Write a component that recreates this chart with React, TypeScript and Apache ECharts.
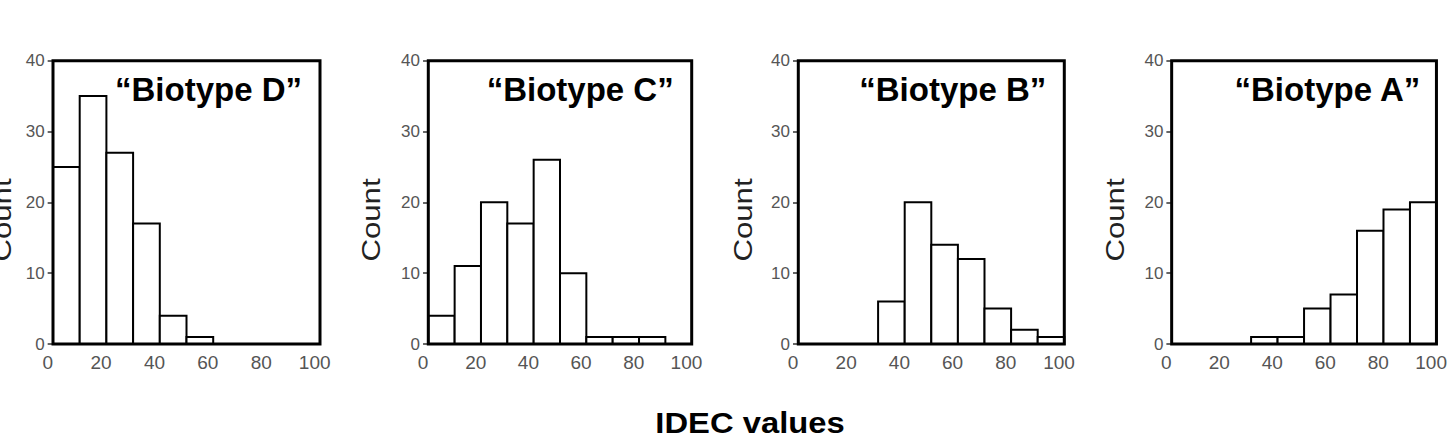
import React, { useEffect, useRef } from "react";
import * as echarts from "echarts";

// Histogram bins: width 10, starting at 2 (2–12, 12–22, …, 92–102)
const BIN_STARTS = [2, 12, 22, 32, 42, 52, 62, 72, 82, 92];
const BIN_WIDTH = 10;

// Counts per bin for each biotype, left to right
const PANEL_NAMES = ["\u201CBiotype D\u201D", "\u201CBiotype C\u201D", "\u201CBiotype B\u201D", "\u201CBiotype A\u201D"];
const COUNTS_D = [25, 35, 27, 17, 4, 1, 0, 0, 0, 0];
const COUNTS_C = [4, 11, 20, 17, 26, 10, 1, 1, 1, 0];
const COUNTS_B = [0, 0, 0, 6, 20, 14, 12, 5, 2, 1];
const COUNTS_A = [0, 0, 0, 1, 1, 5, 7, 16, 19, 20];
const PANEL_COUNTS = [COUNTS_D, COUNTS_C, COUNTS_B, COUNTS_A];

// Axis settings
const X_MIN = 0;
const X_MAX = 102;
const X_INTERVAL = 20;
const FRAME_X0 = 2;
const FRAME_X1 = 102;
const Y_MIN = 0;
const Y_MAX = 40;
const Y_INTERVAL = 10;

const Y_NAME = "Count";
const X_NAME = "IDEC values";

// Panel frame geometry (pixels)
const FRAME_LEFT = [53, 428.3, 798.3, 1171.7];
const FRAME_RIGHT = [320, 691.7, 1064.3, 1438.3];
const FRAME_TOP = 60.7;
const FRAME_BOTTOM = 344;
// Horizontal distance of each "Count" label from its frame
const Y_NAME_OFFSET = [51, 57, 55, 57];

const FONT = '"Liberation Sans", Arial, Helvetica, sans-serif';

export default function App() {
  const ref = useRef<HTMLDivElement>(null);

  useEffect(() => {
    if (!ref.current) return;
    const chart = echarts.init(ref.current, undefined, { renderer: "svg" });

    const grids: any[] = [];
    const xAxes: any[] = [];
    const yAxes: any[] = [];
    const series: any[] = [];
    const graphics: any[] = [];

    PANEL_COUNTS.forEach((counts, i) => {
      const fl = FRAME_LEFT[i];
      const fr = FRAME_RIGHT[i];
      const scale = (fr - fl) / (FRAME_X1 - FRAME_X0);
      const gridLeft = fl - (FRAME_X0 - X_MIN) * scale;
      const gridWidth = (X_MAX - X_MIN) * scale;

      grids.push({
        left: gridLeft,
        top: FRAME_TOP,
        width: gridWidth,
        height: FRAME_BOTTOM - FRAME_TOP,
        containLabel: false,
      });

      xAxes.push({
        type: "value",
        gridIndex: i,
        min: X_MIN,
        max: X_MAX,
        interval: X_INTERVAL,
        axisLine: { show: false },
        axisTick: { show: false },
        splitLine: { show: false },
        axisLabel: {
          margin: 9,
          color: "#555",
          fontFamily: FONT,
          fontSize: 19,
          formatter: (v: number) => (v % X_INTERVAL === 0 && v <= 100 ? String(v) : ""),
        },
      });

      yAxes.push({
        type: "value",
        gridIndex: i,
        min: Y_MIN,
        max: Y_MAX,
        interval: Y_INTERVAL,
        axisLine: { show: false },
        axisTick: { show: true, inside: true, length: 5, lineStyle: { color: "#333", width: 1.5 } },
        splitLine: { show: false },
        axisLabel: {
          margin: 3,
          color: "#555",
          fontFamily: FONT,
          fontSize: 17,
        },
      });

      series.push({
        type: "custom",
        xAxisIndex: i,
        yAxisIndex: i,
        silent: true,
        encode: { x: [0, 1], y: 2 },
        data: BIN_STARTS.map((s, k) => [s, s + BIN_WIDTH, counts[k]]),
        renderItem: (_params: any, api: any) => {
          const c = api.value(2);
          if (!c) return null;
          const p0 = api.coord([api.value(0), c]);
          const p1 = api.coord([api.value(1), 0]);
          return {
            type: "rect",
            shape: { x: p0[0], y: p0[1], width: p1[0] - p0[0], height: p1[1] - p0[1] },
            style: { fill: "#fff", stroke: "#000", lineWidth: 2 },
          };
        },
        markArea: {
          silent: true,
          z: 10,
          itemStyle: { color: "rgba(0,0,0,0)", borderColor: "#000", borderWidth: 3 },
          label: { show: false },
          data: [[{ coord: [FRAME_X0, Y_MAX] }, { coord: [FRAME_X1, Y_MIN] }]],
        },
      });

      // Panel title inside the frame, upper right
      graphics.push({
        type: "text",
        x: fr - 18,
        y: 89,
        style: {
          text: PANEL_NAMES[i],
          font: `bold 33px ${FONT}`,
          fill: "#000",
          align: "right",
          verticalAlign: "middle",
        },
      });

      // Y axis name, rotated
      graphics.push({
        type: "text",
        x: fl - Y_NAME_OFFSET[i],
        y: 220,
        rotation: Math.PI / 2,
        scaleX: 1.2,
        style: {
          text: Y_NAME,
          font: `26px ${FONT}`,
          fill: "#222",
          align: "center",
          verticalAlign: "middle",
        },
      });
    });

    // Shared x axis name
    graphics.push({
      type: "text",
      x: 750,
      y: 423,
      scaleX: 1.13,
      style: {
        text: X_NAME,
        font: `bold 29px ${FONT}`,
        fill: "#000",
        align: "center",
        verticalAlign: "middle",
      },
    });

    chart.setOption({
      animation: false,
      backgroundColor: "#fff",
      grid: grids,
      xAxis: xAxes,
      yAxis: yAxes,
      series,
      graphic: graphics,
    });

    return () => chart.dispose();
  }, []);

  return (
    <div
      ref={ref}
      style={{ position: "fixed", left: 0, top: 0, width: 1450, height: 446 }}
    />
  );
}
